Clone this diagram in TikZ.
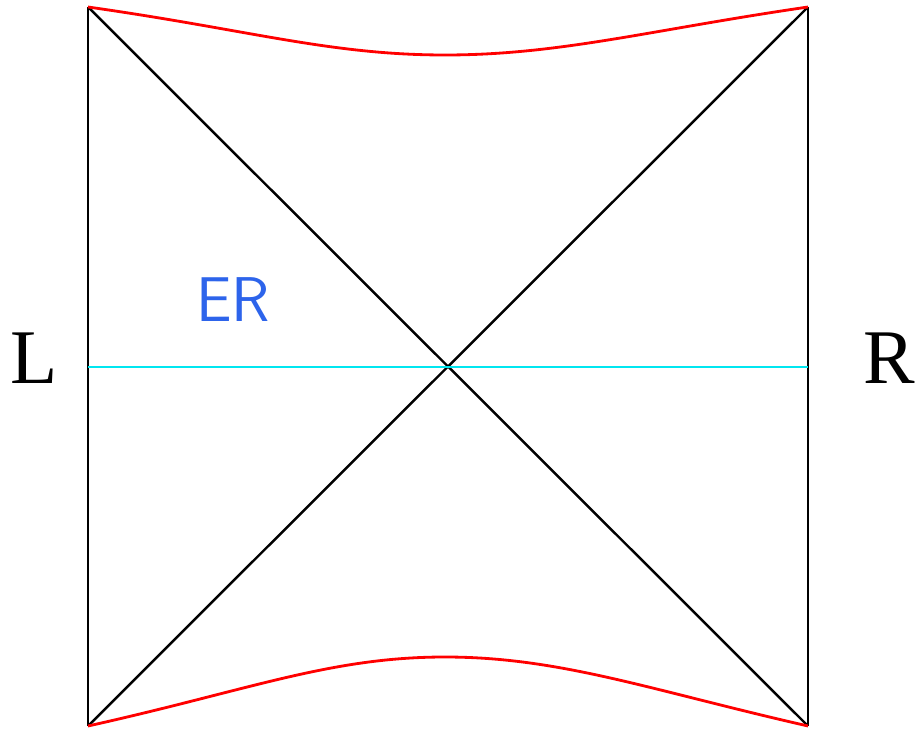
\documentclass[tikz,border=0pt]{standalone}
\usepackage{fontspec}
\usetikzlibrary{positioning,calc}
\newfontfamily\sidefont{Liberation Serif}
\definecolor{erblue}{RGB}{45,100,235}
\definecolor{slicecyan}{RGB}{0,230,240}
\tikzset{
    horizonline/.style={
        black,                    % horizontes y bordes en negro
        line width=1.4pt          % trazo fino pero visible
    },
    singline/.style={
        red,                      % singularidades en rojo
        line width=1.6pt          % algo mas grueso que los horizontes
    },
    sliceline/.style={
        slicecyan,                % corte t=0 en cian
        line width=1.4pt
    },
    sidelabel/.style={
        font=\sidefont\fontsize{44}{50}\selectfont, % letras grandes a los lados
        inner sep=0pt
    },
    erlabel/.style={
        text=erblue,
        font=\sffamily\fontsize{36}{40}\selectfont,
        inner sep=0pt
    }
}
\begin{document}
\begin{tikzpicture}[x=0.02cm,y=-0.02cm]
    \useasboundingbox (0,0) rectangle (915,729);

    % esquinas del diagrama
    \coordinate (tl) at (88,7);
    \coordinate (tr) at (808,7);
    \coordinate (bl) at (88,726);
    \coordinate (br) at (808,726);
    \coordinate (mid) at (448,367);
    \coordinate (ml) at (88,367);
    \coordinate (mr) at (808,367);

    % bordes y horizontes
    \draw[horizonline] (tl) -- (bl);
    \draw[horizonline] (tr) -- (br);
    \draw[horizonline] (tl) -- (br);
    \draw[horizonline] (bl) -- (tr);

    % corte espacial
    \draw[sliceline] (ml) -- (mr);

    % singularidades
    \draw[singline] (tl) .. controls (250,30) and (330,55) .. (445,55)
        .. controls (560,55) and (650,30) .. (tr);
    \draw[singline] (bl) .. controls (250,690) and (330,657) .. (445,657)
        .. controls (560,657) and (650,690) .. (br);

    % etiquetas
    \node[sidelabel] (lleft) at (34,358) {L};
    \node[sidelabel] (lright) at (889,358) {R};
    \node[erlabel] (er) at (233,300) {ER};
\end{tikzpicture}
\end{document}
